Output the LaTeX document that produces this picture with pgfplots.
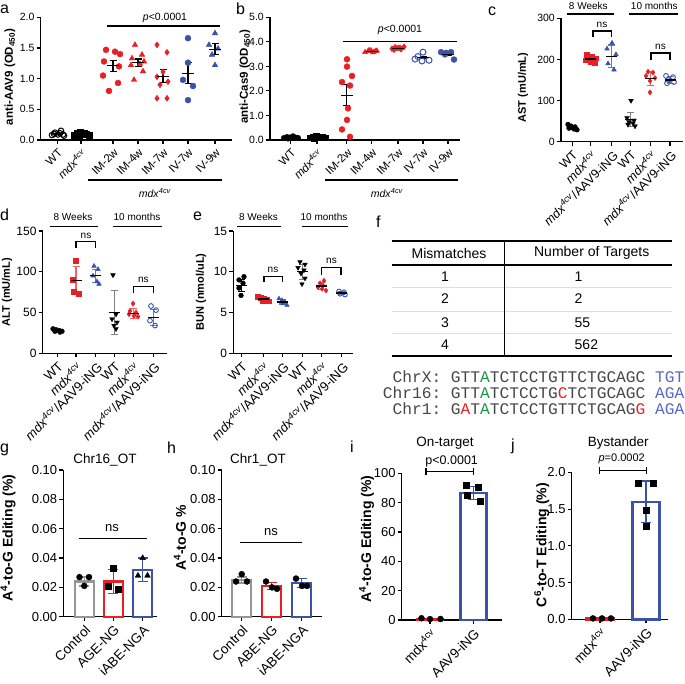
\documentclass[border=0pt]{standalone}
\usepackage{fontspec}
\setmainfont{Liberation Sans}
\setmonofont{Liberation Mono}
\usepackage{pgfplots}
\pgfplotsset{compat=1.18}
\definecolor{gred}{RGB}{232,32,38}
\definecolor{gblue}{RGB}{58,82,168}
\definecolor{lred}{RGB}{238,100,100}
\definecolor{lblue}{RGB}{100,120,200}
\definecolor{bgray}{RGB}{150,150,150}
\definecolor{sgray}{RGB}{70,70,70}
\definecolor{sgreen}{RGB}{30,150,70}
\definecolor{sblue}{RGB}{85,105,200}
\newcommand{\mdx}{\textit{mdx}\textsuperscript{\textit{4cv}}}
\newcommand{\fs}[1]{\fontsize{#1}{#1}\selectfont}
\pgfplotsset{
  gp/.style={scale only axis, anchor=south west, clip=false, enlargelimits=false,
    axis x line*=bottom, axis y line*=left,
    axis line style={line width=1.1pt, black},
    major tick style={line width=1.1pt, black},
    major tick length=4pt, tick align=outside,
    scaled y ticks=false, scaled x ticks=false,
    /pgf/number format/assume math mode=true,
    xticklabel style={rotate=45, anchor=north east, inner sep=2.5pt},
    yticklabel style={inner sep=2pt}},
  sc/.style={only marks, mark size=#1},
  mb/.style 2 args={only marks, mark=-, mark size=#1, mark options={line width=1.2pt, black},
    /pgfplots/error bars/y dir=both, /pgfplots/error bars/y explicit,
    /pgfplots/error bars/error bar style={line width=1.1pt, #2},
    /pgfplots/error bars/error mark options={rotate=90, mark size=3.5pt, line width=1.1pt, #2}},
  bb/.style 2 args={ybar, bar shift=0pt, bar width=#1, fill=white, draw=#2, line width=2.4pt,
    /pgfplots/error bars/y dir=both, /pgfplots/error bars/y explicit,
    /pgfplots/error bars/error bar style={line width=1.4pt, #2},
    /pgfplots/error bars/error mark options={rotate=90, mark size=5pt, line width=1.4pt, #2}},
}
\begin{document}
\begin{tikzpicture}
% ---------------- a ----------------
\begin{axis}[gp, at={(40.7pt,-140pt)}, width=191.3pt, height=122.7pt,
  xmin=40.7, xmax=232, ymin=0, ymax=2,
  ytick={0,0.5,1,1.5,2},
  yticklabel style={font=\fs{10.5}, /pgf/number format/fixed, /pgf/number format/fixed zerofill, /pgf/number format/precision=1},
  xtick={57.5,81,113,138,163,188,215},
  xticklabels={WT,\mdx,IM-2w,IM-4w,IM-7w,IV-7w,IV-9w},
  xticklabel style={font=\fs{11.5}}]
\addplot[sc=2.8pt, mark=o, black, mark options={line width=1pt}] coordinates {(52,0.08)(55,0.12)(58,0.09)(61,0.15)(64,0.07)(54,0.10)(60,0.11)(63,0.09)};
\addplot[sc=2.8pt, mark=square*, black] coordinates {(74,0.08)(77,0.11)(80,0.13)(83,0.09)(86,0.10)(89,0.08)(79,0.07)(84,0.12)};
\addplot[sc=3pt, mark=*, gred] coordinates {(106,1.47)(115,1.44)(120,1.40)(104,1.28)(119,1.20)(103,1.05)(118,0.93)(109,0.80)};
\addplot[sc=3.2pt, mark=triangle*, gred] coordinates {(135,1.55)(142,1.39)(132,1.33)(144,1.28)(131,1.22)(140,1.24)(143,1.12)(134,0.98)};
\addplot[sc=3pt, mark=diamond*, gred] coordinates {(157,1.55)(167,1.43)(163,1.11)(157,1.03)(168,0.95)(160,0.90)(157,0.68)(167,0.68)};
\addplot[sc=3pt, mark=*, gblue] coordinates {(188,1.66)(188,1.26)(183,0.98)(193,0.88)(188,0.65)};
\addplot[sc=3.2pt, mark=triangle*, gblue] coordinates {(215,1.74)(209,1.55)(218,1.49)(212,1.39)(215,1.22)};
\addplot[mb={6pt}{black}] coordinates {(57.5,0.10) +- (0,0.01) (81,0.10) +- (0,0.01) (113,1.21) +- (0,0.09) (138,1.26) +- (0,0.06) (163,1.04) +- (0,0.11) (188,1.09) +- (0,0.17) (215,1.48) +- (0,0.09)};
\end{axis}
% ---------------- b ----------------
\begin{axis}[gp, at={(270pt,-140pt)}, width=190pt, height=122.7pt,
  xmin=270, xmax=460, ymin=0, ymax=5,
  ytick={0,1,2,3,4,5},
  yticklabel style={font=\fs{10.5}, /pgf/number format/fixed, /pgf/number format/fixed zerofill, /pgf/number format/precision=1},
  xtick={290.7,317,346.7,371.7,398,423,448},
  xticklabels={WT,\mdx,IM-2w,IM-4w,IM-7w,IV-7w,IV-9w},
  xticklabel style={font=\fs{11.5}}]
\addplot[sc=2.8pt, mark=*, black] coordinates {(284,0.08)(287,0.12)(290,0.10)(293,0.15)(296,0.09)(288,0.06)(294,0.11)(298,0.08)};
\addplot[sc=2.8pt, mark=square*, black] coordinates {(310,0.10)(313,0.13)(316,0.15)(319,0.10)(322,0.12)(325,0.09)(314,0.07)(320,0.14)};
\addplot[sc=3pt, mark=*, gred] coordinates {(347,3.29)(347,2.99)(352,2.61)(342,2.36)(350,2.22)(348,1.29)(347,0.82)(342,0.43)(350,0.13)};
\addplot[sc=3pt, mark=triangle*, gred] coordinates {(365,3.58)(368,3.62)(371,3.65)(374,3.60)(377,3.63)(369,3.66)(373,3.57)(376,3.64)};
\addplot[sc=3pt, mark=diamond*, gred] coordinates {(392,3.72)(395,3.78)(398,3.75)(401,3.70)(404,3.80)(396,3.74)(400,3.76)(394,3.68)};
\addplot[sc=3pt, mark=o, gblue, mark options={line width=1pt, fill=white}] coordinates {(423,3.58)(418,3.40)(415,3.30)(422,3.22)(429,3.25)};
\addplot[sc=3pt, mark=*, gblue] coordinates {(441,3.58)(446,3.55)(451,3.58)(445,3.49)(454,3.28)};
\addplot[mb={6pt}{black}] coordinates {(290.7,0.10) +- (0,0.01) (317,0.12) +- (0,0.01) (346.7,1.82) +- (0,0.43) (371.7,3.62) +- (0,0.02) (398,3.74) +- (0,0.02) (423,3.36) +- (0,0.05) (448,3.50) +- (0,0.05)};
\end{axis}
% ---------------- c ----------------
\begin{axis}[gp, at={(561pt,-141.7pt)}, width=122pt, height=123.4pt,
  xmin=561, xmax=683, ymin=0, ymax=300,
  ytick={0,100,200,300},
  yticklabel style={font=\fs{10.5}},
  xtick={572.3,590.7,611.7,630.7,650.7,670},
  xticklabels={WT,\mdx,\mdx/AAV9-iNG,WT,\mdx,\mdx/AAV9-iNG},
  xticklabel style={font=\fs{12.5}}]
\addplot[sc=2.4pt, mark=*, black] coordinates {(568,42)(571,38)(575,36)(569,33)(574,31)(577,29)};
\addplot[sc=2.4pt, mark=square*, gred] coordinates {(587,212)(592,208)(596,203)(586,198)(591,195)(595,192)};
\addplot[sc=2.7pt, mark=triangle*, gblue] coordinates {(612,240)(607,226)(616,212)(608,190)(614,175)};
\addplot[sc=2.7pt, mark=triangle*, black, mark options={rotate=180}] coordinates {(631,100)(627,58)(634,52)(629,48)(633,45)(628,42)(635,38)};
\addplot[sc=2.6pt, mark=diamond*, gred] coordinates {(648,170)(653,168)(646,160)(655,155)(650,148)(650,120)};
\addplot[sc=2.4pt, mark=o, gblue, mark options={line width=0.9pt, fill=white}] coordinates {(666,160)(673,157)(668,150)(674,145)(667,142)};
\addplot[mb={5.5pt}{black}] coordinates {(572.3,35) +- (0,4)};
\addplot[mb={5.5pt}{lred}] coordinates {(590.7,201) +- (0,7)};
\addplot[mb={5.5pt}{lblue}] coordinates {(611.7,208) +- (0,27)};
\addplot[mb={5.5pt}{gray}] coordinates {(630.7,54) +- (0,17)};
\addplot[mb={5.5pt}{lred}] coordinates {(650.7,153) +- (0,17)};
\addplot[mb={5.5pt}{lblue}] coordinates {(670,150) +- (0,8)};
\end{axis}
% ---------------- d ----------------
\begin{axis}[gp, at={(42.7pt,-353.3pt)}, width=124pt, height=122.3pt,
  xmin=42.7, xmax=166.7, ymin=0, ymax=150,
  ytick={0,50,100,150},
  yticklabel style={font=\fs{12}},
  xtick={57.3,76,95.7,114.3,133.3,153.3},
  xticklabels={WT,\mdx,\mdx/AAV9-iNG,WT,\mdx,\mdx/AAV9-iNG},
  xticklabel style={font=\fs{13}}]
\addplot[sc=2.4pt, mark=*, black] coordinates {(53,30)(56,29)(59,28)(62,27)(55,27)(60,26)};
\addplot[sc=2.5pt, mark=square*, gred] coordinates {(76,113)(73,90)(74,75)(79,73)};
\addplot[sc=2.7pt, mark=triangle*, gblue] coordinates {(94,107)(98,103)(93,95)(97,88)(99,85)};
\addplot[sc=2.7pt, mark=triangle*, black, mark options={rotate=180}] coordinates {(113,96)(116,48)(112,42)(117,38)(114,34)(116,30)};
\addplot[sc=2.6pt, mark=diamond*, gred] coordinates {(133,61)(130,52)(136,50)(129,48)(134,46)(138,45)};
\addplot[sc=2.4pt, mark=o, gblue, mark options={line width=0.9pt, fill=white}] coordinates {(151,58)(156,53)(150,40)(155,34)};
\addplot[mb={5.5pt}{black}] coordinates {(57.3,28) +- (0,1.5)};
\addplot[mb={5.5pt}{lred}] coordinates {(76,89) +- (0,17)};
\addplot[mb={5.5pt}{lblue}] coordinates {(95.7,95) +- (0,8)};
\addplot[mb={5.5pt}{gray}] coordinates {(114.3,50) +- (0,27)};
\addplot[mb={5.5pt}{lred}] coordinates {(133.3,49) +- (0,6)};
\addplot[mb={5.5pt}{lblue}] coordinates {(153.3,44) +- (0,10)};
\end{axis}
% ---------------- e ----------------
\begin{axis}[gp, at={(233.3pt,-353.3pt)}, width=119.7pt, height=122.3pt,
  xmin=233.3, xmax=353, ymin=0, ymax=15,
  ytick={0,5,10,15},
  yticklabel style={font=\fs{12}},
  xtick={241.7,263.3,282.3,302.3,321.7,341.7},
  xticklabels={WT,\mdx,\mdx/AAV9-iNG,WT,\mdx,\mdx/AAV9-iNG},
  xticklabel style={font=\fs{13}}]
\addplot[sc=2.4pt, mark=*, black] coordinates {(244,9.4)(239,9.0)(243,8.6)(239,8.0)(241,7.1)};
\addplot[sc=2.4pt, mark=square*, gred] coordinates {(258,6.9)(261,6.8)(264,6.7)(267,6.6)(263,6.5)(269,6.4)};
\addplot[sc=2.6pt, mark=triangle*, gblue] coordinates {(279,6.7)(282,6.5)(285,6.3)(283,6.1)(287,5.9)};
\addplot[sc=2.6pt, mark=triangle*, black, mark options={rotate=180}] coordinates {(300,11.2)(305,10.9)(298,10.5)(304,10.2)(301,9.8)(305,9.2)(302,8.5)};
\addplot[sc=2.5pt, mark=diamond*, gred] coordinates {(324,8.9)(320,8.6)(323,8.3)(318,8.1)(322,7.9)(326,7.7)};
\addplot[sc=2.3pt, mark=o, gblue, mark options={line width=0.9pt, fill=white}] coordinates {(339,7.6)(344,7.5)(340,7.3)(345,7.2)};
\addplot[mb={5.5pt}{black}] coordinates {(241.7,8.3) +- (0,0.75)};
\addplot[mb={5.5pt}{lred}] coordinates {(263.3,6.65) +- (0,0.15)};
\addplot[mb={5.5pt}{lblue}] coordinates {(282.3,6.3) +- (0,0.25)};
\addplot[mb={5.5pt}{gray}] coordinates {(302.3,10.0) +- (0,0.9)};
\addplot[mb={5.5pt}{lred}] coordinates {(321.7,8.25) +- (0,0.4)};
\addplot[mb={5.5pt}{lblue}] coordinates {(341.7,7.4) +- (0,0.15)};
\end{axis}
% ---------------- g ----------------
\begin{axis}[gp, at={(63.3pt,-616.7pt)}, width=93.4pt, height=146.7pt,
  xmin=63.3, xmax=156.7, ymin=0, ymax=0.1,
  ytick={0,0.02,0.04,0.06,0.08,0.1},
  yticklabel style={font=\fs{13}, /pgf/number format/fixed, /pgf/number format/fixed zerofill, /pgf/number format/precision=2},
  xtick={84.3,113.3,142.7},
  xticklabels={Control,AGE-NG,iABE-NGA},
  xticklabel style={font=\fs{13.5}}]
\addplot[bb={19pt}{bgray}] coordinates {(84.3,0.024) +- (0,0.003)};
\addplot[bb={19pt}{gred}] coordinates {(113.3,0.024) +- (0,0.008)};
\addplot[bb={19pt}{gblue}] coordinates {(142.7,0.032) +- (0,0.008)};
\addplot[sc=3pt, mark=*, black] coordinates {(79.5,0.027)(89,0.027)(84.3,0.021)};
\addplot[sc=3pt, mark=square*, black] coordinates {(113.3,0.033)(108.5,0.021)(118,0.019)};
\addplot[sc=3.3pt, mark=triangle*, black] coordinates {(142.7,0.040)(138,0.028)(147.5,0.028)};
\end{axis}
% ---------------- h ----------------
\begin{axis}[gp, at={(221.7pt,-616.7pt)}, width=100pt, height=146.7pt,
  xmin=221.7, xmax=321.7, ymin=0, ymax=0.1,
  ytick={0,0.02,0.04,0.06,0.08,0.1},
  yticklabel style={font=\fs{13}, /pgf/number format/fixed, /pgf/number format/fixed zerofill, /pgf/number format/precision=2},
  xtick={241.7,271.7,301.7},
  xticklabels={Control,ABE-NG,iABE-NGA},
  xticklabel style={font=\fs{13.5}}]
\addplot[bb={19pt}{bgray}] coordinates {(241.7,0.025) +- (0,0.002)};
\addplot[bb={19pt}{gred}] coordinates {(271.7,0.021) +- (0,0.0025)};
\addplot[bb={19pt}{gblue}] coordinates {(301.7,0.023) +- (0,0.003)};
\addplot[sc=3pt, mark=*, black] coordinates {(241.7,0.029)(236,0.024)(247,0.024)};
\addplot[sc=3pt, mark=*, black] coordinates {(266,0.024)(272,0.020)(277,0.019)};
\addplot[sc=3pt, mark=*, black] coordinates {(296,0.026)(302,0.021)(307,0.021)};
\end{axis}
% ---------------- i ----------------
\begin{axis}[gp, at={(401.7pt,-620pt)}, width=100pt, height=146.7pt,
  xmin=401.7, xmax=501.7, ymin=0, ymax=100,
  ytick={0,20,40,60,80,100},
  yticklabel style={font=\fs{13}},
  xtick={430,473.3},
  xticklabels={mdx\textsuperscript{4cv},AAV9-iNG},
  xticklabel style={font=\fs{13.5}}]
\addplot[bb={26pt}{gred}] coordinates {(430,0.8) +- (0,0.3)};
\addplot[bb={26pt}{gblue}] coordinates {(473.3,86.5) +- (0,4.5)};
\addplot[sc=3pt, mark=*, black] coordinates {(421.5,1.2)(430,0.6)(440.5,0.7)};
\addplot[sc=3pt, mark=square*, black] coordinates {(466.5,92)(478.5,90.5)(467,85)(480,81)};
\end{axis}
% ---------------- j ----------------
\begin{axis}[gp, at={(571.7pt,-619.3pt)}, width=96.6pt, height=147pt,
  xmin=571.7, xmax=668.3, ymin=0, ymax=2,
  ytick={0,0.5,1,1.5,2},
  yticklabel style={font=\fs{13}, /pgf/number format/fixed, /pgf/number format/fixed zerofill, /pgf/number format/precision=1},
  xtick={600,646},
  xticklabels={mdx\textsuperscript{4cv},AAV9-iNG},
  xticklabel style={font=\fs{13.5}}]
\addplot[bb={27pt}{gred}] coordinates {(600,0.01) +- (0,0.005)};
\addplot[bb={27pt}{gblue}] coordinates {(646,1.60) +- (0,0.28)};
\addplot[sc=3pt, mark=*, black] coordinates {(593,0.012)(602,0.012)(611,0.012)};
\addplot[sc=3pt, mark=square*, black] coordinates {(638.5,1.85)(653,1.85)(646,1.48)(646,1.27)};
\end{axis}
% ---------------- annotations ----------------
\begin{scope}[x=1pt,y=-1pt]
% panel letters
\foreach \l/\xx/\yy in {a/0/13.5, b/236/14, c/488/15, d/0/220, e/193/220, f/376/227, g/0/452, h/167/453, i/350/452, j/511/450}
  \node[font=\fs{16}, anchor=base west, inner sep=0] at (\xx,\yy) {\l};
% y labels
\node[rotate=90, font=\fs{11.5}\bfseries] at (10,77) {anti-AAV9 (OD\textsubscript{450})};
\node[rotate=90, font=\fs{11.5}\bfseries] at (245,77) {anti-Cas9 (OD\textsubscript{450})};
\node[rotate=90, font=\fs{11}\bfseries] at (523,87.5) {AST (mU/mL)};
\node[rotate=90, font=\fs{11}\bfseries] at (7,292) {ALT (mU/mL)};
\node[rotate=90, font=\fs{11}\bfseries] at (201,292) {BUN (nmol/uL)};
\node[rotate=90, font=\fs{14}\bfseries] at (8,538) {A\textsuperscript{4}-to-G Editing (\%)};
\node[rotate=90, font=\fs{14}\bfseries] at (180,538) {A\textsuperscript{4}-to-G \%};
\node[rotate=90, font=\fs{14}\bfseries] at (366.7,539) {A\textsuperscript{4}-to-G Editing (\%)};
\node[rotate=90, font=\fs{14}\bfseries] at (541.7,545) {C\textsuperscript{6}-to-T Editing (\%)};
% a, b significance
\draw[line width=1.4pt] (107,26) -- (220,26);
\node[font=\fs{10.5}] at (165,17.5) {\textit{p}<0.0001};
\draw[line width=1.2pt] (88,180) -- (222,180);
\node[font=\fs{10.5}] at (155,193) {\mdx};
\draw[line width=1.4pt] (342.7,41.7) -- (456.7,41.7);
\node[font=\fs{10.5}] at (400,30) {\textit{p}<0.0001};
\draw[line width=1.2pt] (325,180) -- (458,180);
\node[font=\fs{10.5}] at (387,193) {\mdx};
% c
\node[font=\fs{10}] at (588.3,5.5) {8 Weeks};
\node[font=\fs{10}] at (654.3,5.5) {10 months};
\draw[line width=1.4pt] (566.7,14) -- (614,14);
\draw[line width=1.4pt] (629,14) -- (678,14);
\draw[line width=1.1pt] (593,36.7) -- (593,31) -- (611.7,31) -- (611.7,36.7);
\node[font=\fs{10}] at (602,24.5) {ns};
\draw[line width=1.1pt] (651,60) -- (651,53) -- (670,53) -- (670,60);
\node[font=\fs{10}] at (660.5,46.5) {ns};
% d
\node[font=\fs{10}] at (73,217) {8 Weeks};
\node[font=\fs{10}] at (137,217) {10 months};
\draw[line width=1.4pt] (50,226.5) -- (98,226.5);
\draw[line width=1.4pt] (113,226.5) -- (162,226.5);
\draw[line width=1.1pt] (76,248.3) -- (76,241.7) -- (95.7,241.7) -- (95.7,248.3);
\node[font=\fs{10}] at (86,235.5) {ns};
\draw[line width=1.1pt] (133.3,293.3) -- (133.3,286.7) -- (153.3,286.7) -- (153.3,293.3);
\node[font=\fs{10}] at (143.3,280) {ns};
% e
\node[font=\fs{10}] at (258.5,217) {8 Weeks};
\node[font=\fs{10}] at (324,217) {10 months};
\draw[line width=1.4pt] (237,226.5) -- (281,226.5);
\draw[line width=1.4pt] (301.7,226.5) -- (348,226.5);
\draw[line width=1.1pt] (264,282.3) -- (264,276.7) -- (282.3,276.7) -- (282.3,282.3);
\node[font=\fs{10}] at (273,270) {ns};
\draw[line width=1.1pt] (321.7,275) -- (321.7,267.7) -- (341,267.7) -- (341,275);
\node[font=\fs{10}] at (331.5,261) {ns};
% f table
\draw[line width=1.5pt] (391.7,241) -- (671.7,241);
\draw[line width=1.5pt] (391.7,265) -- (671.7,265);
\draw[line width=1.3pt, black!13] (391.7,287.3) -- (671.7,287.3);
\draw[line width=1.3pt, black!13] (391.7,311.7) -- (671.7,311.7);
\draw[line width=1.3pt, black!13] (391.7,333.3) -- (671.7,333.3);
\draw[line width=1.5pt] (391.7,356) -- (671.7,356);
\draw[line width=1.3pt] (504.3,241) -- (504.3,356);
\node[font=\fs{14}] at (449,253) {Mismatches};
\node[font=\fs{14}] at (591.7,253) {Number of Targets};
\foreach \n/\t/\yy in {1/1/276.7, 2/2/299, 3/55/322.7, 4/562/344.3} {
  \node[font=\fs{14}] at (445,\yy) {\n};
  \node[font=\fs{14}, anchor=west, inner sep=0] at (574.5,\yy) {\t};
}
\node[anchor=east, inner sep=0, font=\fs{16.2}\ttfamily, text=sgray] at (684.5,376.7) {ChrX: GTT\textcolor{sgreen}{A}TCTCCTGTTCTGCAGC \textcolor{sblue}{TGT}};
\node[anchor=east, inner sep=0, font=\fs{16.2}\ttfamily, text=sgray] at (684.5,393) {Chr16: GTT\textcolor{sgreen}{A}TCTCCTG\textcolor{gred}{C}TCTGCAGC \textcolor{sblue}{AGA}};
\node[anchor=east, inner sep=0, font=\fs{16.2}\ttfamily, text=sgray] at (684.5,408.3) {Chr1: G\textcolor{gred}{A}T\textcolor{sgreen}{A}TCTCCTGTTCTGCAG\textcolor{gred}{G} \textcolor{sblue}{AGA}};
% g h titles and ns
\node[font=\fs{13.5}] at (105,460) {Chr16\_OT};
\node[font=\fs{13.5}] at (258,460) {Chr1\_OT};
\draw[line width=1.3pt] (79,538.3) -- (146.7,538.3);
\node[font=\fs{13}] at (112,528) {ns};
\draw[line width=1.3pt] (240,542.7) -- (302.3,542.7);
\node[font=\fs{13}] at (271,532.5) {ns};
% i j
\node[font=\fs{13.5}] at (445,443) {On-target};
\node[font=\fs{12.5}] at (451.7,461.7) {p<0.0001};
\draw[line width=1.3pt] (426,471.7) -- (473.3,471.7);
\draw[line width=1.3pt] (426,468.2) -- (426,475.2);
\draw[line width=1.3pt] (473.3,468.2) -- (473.3,475.2);
\node[font=\fs{13.5}] at (618.3,443) {Bystander};
\node[font=\fs{11}] at (621.7,458.3) {\textit{p}=0.0002};
\draw[line width=1.3pt] (599.3,470.7) -- (646.7,470.7);
\draw[line width=1.3pt] (599.3,467.2) -- (599.3,474.2);
\draw[line width=1.3pt] (646.7,467.2) -- (646.7,474.2);
\end{scope}
\pgfresetboundingbox
\path[use as bounding box] (0pt,0pt) rectangle (685pt,-683pt);
\end{tikzpicture}
\end{document}
